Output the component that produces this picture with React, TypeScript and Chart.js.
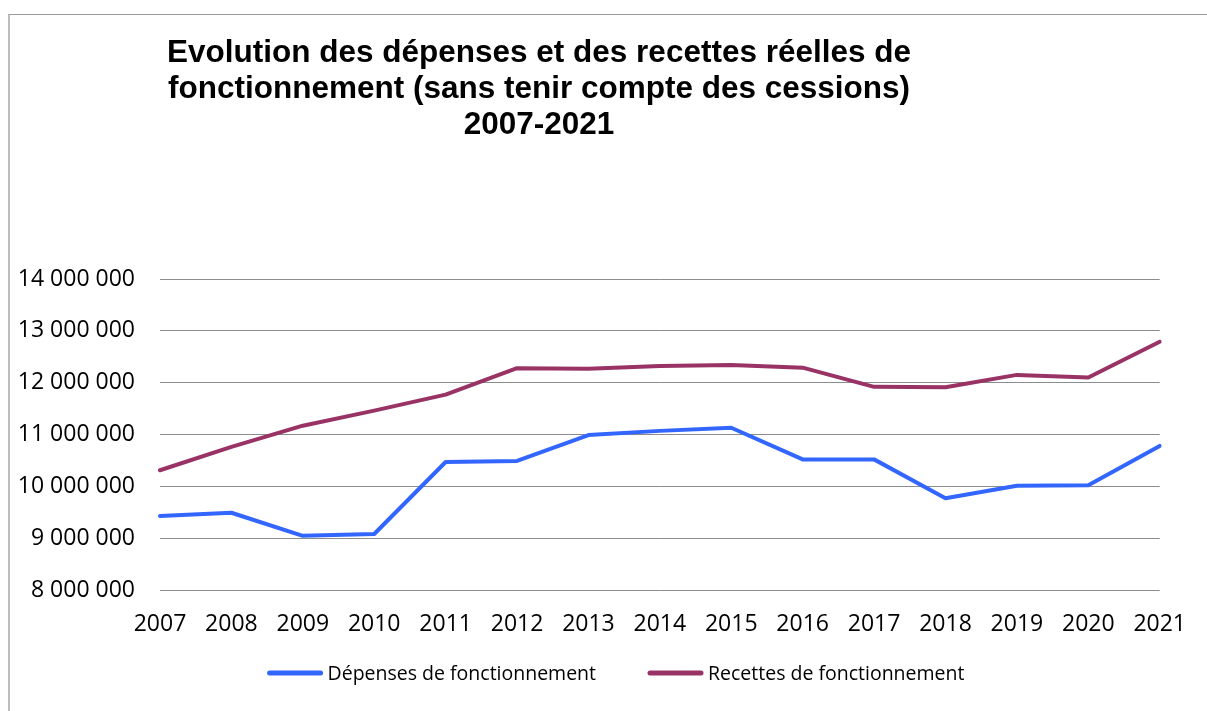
import React, { useEffect, useRef } from "react";
import { Chart, registerables } from "chart.js";

Chart.register(...registerables);

const years = ["2007", "2008", "2009", "2010", "2011", "2012", "2013", "2014", "2015", "2016", "2017", "2018", "2019", "2020", "2021"];
const depenses = [9430000, 9490000, 9045000, 9080000, 10470000, 10490000, 10990000, 11070000, 11130000, 10520000, 10520000, 9770000, 10010000, 10020000, 10780000];
const recettes = [10310000, 10760000, 11170000, 11460000, 11770000, 12280000, 12270000, 12320000, 12340000, 12290000, 11920000, 11910000, 12150000, 12100000, 12790000];
const titleLines = [
  "Evolution des dépenses et des recettes réelles de",
  "fonctionnement (sans tenir compte des cessions)",
  "2007-2021",
];
const seriesNames = ["Dépenses de fonctionnement", "Recettes de fonctionnement"];
const seriesColors = ["#3366FF", "#993366"];

const TICK_FONT = "'Open Sans', 'Liberation Sans', sans-serif";

const fmt = (v: number) =>
  Math.round(v)
    .toString()
    .replace(/\B(?=(\d{3})+(?!\d))/g, " ");

const titlePlugin = {
  id: "customTitle",
  afterDraw(chart: any) {
    const ctx = chart.ctx;
    ctx.save();
    ctx.fillStyle = "#000";
    ctx.font = "bold 31.5px 'Liberation Sans', Arial, sans-serif";
    ctx.textAlign = "center";
    ctx.textBaseline = "alphabetic";
    const baselines = [54, 90, 126];
    titleLines.forEach((t, i) => ctx.fillText(t, 531, baselines[i]));
    ctx.restore();
  },
};

const legendPlugin = {
  id: "customLegend",
  afterDraw(chart: any) {
    const ctx = chart.ctx;
    ctx.save();
    ctx.font = `19.5px ${TICK_FONT}`;
    ctx.textBaseline = "middle";
    ctx.textAlign = "left";
    const lineW = 55;
    const gap = 5;
    const itemGap = 52;
    const ds = chart.data.datasets;
    const widths = ds.map((d: any) => lineW + gap + ctx.measureText(d.label).width);
    const total = widths.reduce((a: number, b: number) => a + b, 0) + itemGap * (ds.length - 1);
    let x = 608 - total / 2;
    const y = 665;
    ds.forEach((d: any, i: number) => {
      ctx.strokeStyle = d.borderColor;
      ctx.lineWidth = 5;
      ctx.lineCap = "round";
      ctx.beginPath();
      ctx.moveTo(x + 2, y);
      ctx.lineTo(x + lineW - 2, y);
      ctx.stroke();
      ctx.fillStyle = "#000";
      ctx.fillText(d.label, x + lineW + gap, y + 1);
      x += widths[i] + itemGap;
    });
    ctx.restore();
  },
};

export default function App() {
  const ref = useRef<HTMLCanvasElement>(null);
  useEffect(() => {
    const chart = new Chart(ref.current!, {
      type: "line",
      data: {
        labels: years,
        datasets: [
          {
            label: seriesNames[0],
            data: depenses,
            borderColor: seriesColors[0],
            backgroundColor: seriesColors[0],
            borderWidth: 4,
            pointRadius: 0,
            tension: 0,
            borderCapStyle: "round",
            borderJoinStyle: "round",
          },
          {
            label: seriesNames[1],
            data: recettes,
            borderColor: seriesColors[1],
            backgroundColor: seriesColors[1],
            borderWidth: 4,
            pointRadius: 0,
            tension: 0,
            borderCapStyle: "round",
            borderJoinStyle: "round",
          },
        ],
      },
      options: {
        animation: false,
        responsive: false,
        maintainAspectRatio: false,
        layout: { padding: { top: 271, right: 46, bottom: 0, left: 0 } },
        plugins: {
          legend: { display: false },
          title: { display: false },
          tooltip: { enabled: false },
        },
        scales: {
          x: {
            offset: false,
            grid: { display: false, drawTicks: false },
            border: { display: false },
            ticks: {
              color: "#000",
              font: { family: TICK_FONT, size: 23 },
              padding: 21,
              maxRotation: 0,
              autoSkip: false,
            },
            afterFit: (s: any) => {
              s.height = 121;
            },
          },
          y: {
            min: 8000000,
            max: 14000000,
            grid: { color: "#8c8c8c", lineWidth: 1, drawTicks: false },
            border: { display: false },
            ticks: {
              stepSize: 1000000,
              color: "#000",
              font: { family: TICK_FONT, size: 23 },
              padding: 25,
              callback: (v: any) => fmt(Number(v)),
            },
            afterFit: (s: any) => {
              s.width = 152;
            },
          },
        },
      },
      plugins: [titlePlugin, legendPlugin],
    });
    return () => chart.destroy();
  }, []);
  return (
    <div style={{ position: "fixed", left: 8, top: 8, width: 1199, height: 703, overflow: "hidden" }}>
      <div
        style={{
          position: "absolute",
          left: 0,
          top: 6,
          width: 1400,
          height: 900,
          borderLeft: "2px solid #bdbdbd",
          borderTop: "1px solid #9a9a9a",
          boxSizing: "border-box",
        }}
      />
      <canvas
        ref={ref}
        width={1199}
        height={703}
        style={{ position: "absolute", left: 0, top: 0, width: 1199, height: 703 }}
      />
    </div>
  );
}
